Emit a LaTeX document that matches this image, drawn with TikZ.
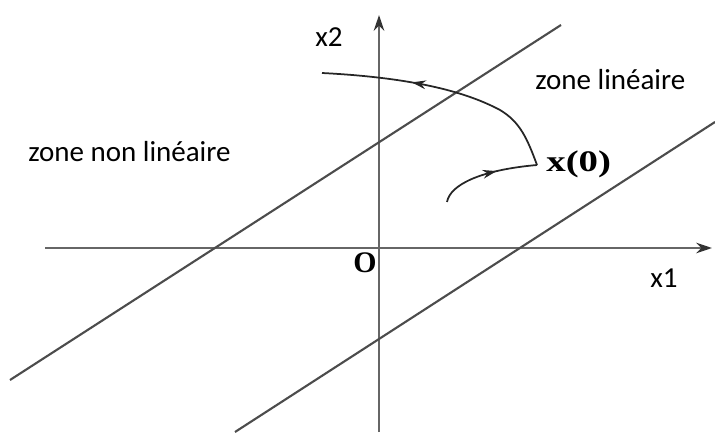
\documentclass[tikz,border=0pt]{standalone}
\usepackage{fontspec}
\setmainfont{Carlito}
\newfontfamily\timesbf{Liberation Serif}[BoldFont={Liberation Serif Bold}]
\usetikzlibrary{arrows.meta,decorations.markings}

\begin{document}
\begin{tikzpicture}[x=0.02cm,y=-0.02cm,
        axis/.style={draw=black!60,line width=1.6pt,-{Stealth[length=9pt,width=6pt,black!80]}},
        border/.style={draw=black!70,line width=1.2pt},
        traj/.style={draw=black!85,line width=1pt},
        midarrow/.style={postaction={decorate},decoration={markings,
            mark=at position #1 with {\arrow{Stealth[length=8pt,width=5pt]}}}},
        zone/.style={font=\fontsize{16.5}{18}\selectfont,inner sep=0pt,anchor=base west},
        serifbig/.style={font=\timesbf\bfseries\fontsize{17}{19}\selectfont,inner sep=0pt}]

    \useasboundingbox (0,0) rectangle (715,432);

    % axes
    \coordinate (xl) at (45,248);
    \coordinate (xr) at (712,248);
    \coordinate (yb) at (379,432);
    \coordinate (yt) at (379,15);
    \draw[axis] (xl) -- (xr);
    \draw[axis] (yb) -- (yt);

    % switching lines
    \coordinate (a1) at (10,380);
    \coordinate (a2) at (561,25);
    \coordinate (b1) at (235,432);
    \coordinate (b2) at (715,122);
    \draw[border] (a1) -- (a2);
    \draw[border] (b1) -- (b2);

    % trajectory
    \coordinate (x0) at (537,165);
    \coordinate (start) at (447,202);
    \coordinate (stop) at (322,73);
    \draw[traj,midarrow=0.6] (start) .. controls (450,185) and (480,170) .. (x0);
    \draw[traj,midarrow=0.64] (x0) .. controls (527,138) and (520,122) .. (500,110)
        .. controls (470,94) and (420,78) .. (stop);

    % labels
    \node[zone] (x2) at (315,47) {x2};
    \node[zone] (x1) at (650,287) {x1};
    \node[zone] (nonlin) at (28,161) {zone non linéaire};
    \node[zone] (lin) at (535,90) {zone linéaire};
    \node[serifbig] (orig) at (365,263) {O};
    \node[serifbig,anchor=base west] (x0lab) at (546,172) {\scalebox{1.3}[1]{x(0)}};
\end{tikzpicture}
\end{document}
